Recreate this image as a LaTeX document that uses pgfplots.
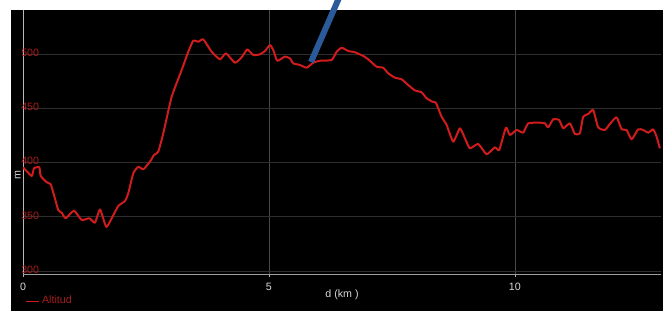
\documentclass[border=0pt]{standalone}
\usepackage{pgfplots}
\pgfplotsset{compat=1.18}
\usepackage{fontspec}
\setmainfont{Liberation Sans}
\definecolor{curve}{HTML}{D01C1C}
\definecolor{ytl}{HTML}{A81C1C}
\definecolor{gridh}{HTML}{2E2E2E}
\definecolor{gridv}{HTML}{484848}
\definecolor{bluel}{HTML}{2A5A9A}
\begin{document}
\begin{tikzpicture}[x=0.75pt,y=0.75pt]
\useasboundingbox (0,0) rectangle (663,311);
\fill[white] (0,0) rectangle (663,311);
\fill[black] (11,0) rectangle (663,301);
\begin{axis}[
  at={(17.25pt,27.75pt)}, anchor=south west,
  scale only axis, width=478.5pt, height=198pt,
  xmin=0, xmax=12.97, ymin=297.2, ymax=540.6,
  axis x line*=bottom, axis y line*=left,
  x axis line style={draw=gray!75, line width=0.6pt, -},
  y axis line style={draw=gray!55, line width=0.6pt, -},
  xtick={0,5,10}, ytick={300,350,400,450,500},
  grid=major,
  x grid style={draw=gridv, line width=0.5pt},
  y grid style={draw=gridh, line width=0.6pt},
  tick align=outside, major tick length=2.5pt,
  xtick style={draw=gray!60},
  ytick style={draw=none},
  /pgf/number format/assume math mode=true,
  font=\fontsize{8}{9.5}\selectfont,
  xticklabel style={text=gray!30, anchor=center, yshift=-7pt},
  yticklabel style={text=ytl, anchor=south west, xshift=0.5pt, yshift=-2.5pt, inner sep=0.5pt},
  xlabel={d (km )},
  xlabel style={text=gray!30, at={(axis description cs:0.5,0)}, anchor=center, yshift=-15.75pt},
  ylabel={m},
  ylabel style={text=gray!30, at={(axis description cs:0,0.375)}, anchor=south, inner sep=1.5pt},
  legend style={draw=none, fill=none, at={(0,0)}, anchor=west, xshift=1.5pt, yshift=-20.25pt,
    text=ytl, inner sep=0pt, font=\fontsize{8}{9.5}\selectfont},
  legend image code/.code={\draw[curve, line width=0.6pt] (0pt,0pt) -- (10pt,0pt);},
]
\addplot[curve, line width=1.5pt, line join=round, smooth, tension=0.3] table {
x y
0.0 395.6
0.177 387.6
0.224 394.7
0.331 395.6
0.36 387.6
0.482 381.8
0.563 379.9
0.63 370
0.717 356.2
0.787 353.7
0.868 348.6
1.037 355.6
1.193 347
1.348 348.6
1.463 344.5
1.565 356.7
1.693 340.6
1.803 348.6
1.937 359.9
2.073 364.5
2.14 371.6
2.242 390
2.344 396.1
2.445 393.7
2.581 400.7
2.663 406.9
2.75 410
2.852 426.9
3.022 460.6
3.226 485.3
3.36 502.1
3.461 512.3
3.563 511.3
3.665 513.5
3.835 502.1
4.004 495.1
4.126 500.6
4.309 492
4.445 497
4.559 504.3
4.681 499.1
4.817 499.7
4.919 502.8
5.02 508.3
5.087 503.7
5.169 493.8
5.325 497.7
5.427 496
5.494 491.4
5.63 489.9
5.766 487.4
5.9 492
6.037 493.8
6.274 494.5
6.376 502.1
6.478 505.8
6.612 502.8
6.748 501.6
6.917 498.2
7.018 495.1
7.189 488.3
7.323 487.4
7.425 482.2
7.561 478.2
7.697 476.7
7.831 471.4
7.967 466.5
8.104 464.7
8.205 459.2
8.327 456
8.394 455.1
8.51 442.2
8.612 434.6
8.746 419.2
8.882 431.5
8.984 422.3
9.085 413.1
9.254 417.1
9.425 407.6
9.593 414
9.681 411.5
9.817 432.1
9.898 425.3
10.035 430
10.169 427.5
10.27 436.1
10.508 436.7
10.61 436.1
10.677 432.4
10.778 439.8
10.9 439.2
10.982 431.5
11.118 436.1
11.22 426.3
11.321 426.9
11.388 442.2
11.49 444.7
11.592 448.4
11.693 432.4
11.829 430
11.931 435.5
12.067 441.7
12.169 430.6
12.27 430
12.372 421.4
12.506 430.6
12.608 430
12.71 427.5
12.811 430.6
12.88 423.8
12.947 413.1
};
\addlegendentry{Altitud}
\end{axis}
\draw[bluel, line width=4.5pt] (311,249) -- (338.5,312);
\end{tikzpicture}
\end{document}
